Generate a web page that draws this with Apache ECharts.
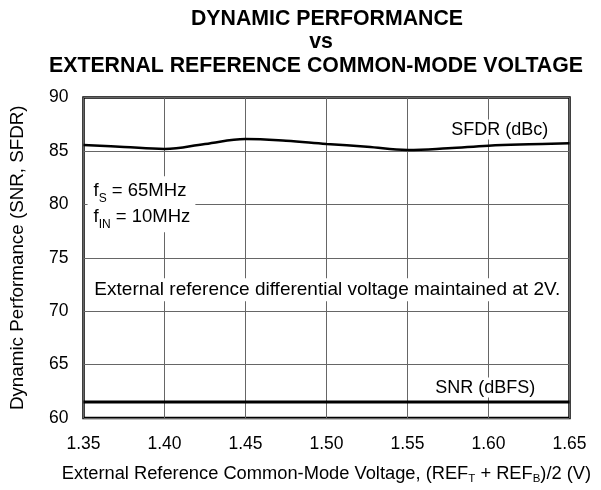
<!DOCTYPE html>
<html>
<head>
<meta charset="utf-8">
<script src="https://cdn.jsdelivr.net/npm/echarts@6/dist/echarts.min.js"></script>
<style>
  html, body { margin: 0; padding: 0; background: #fff; }
  #chart { width: 601px; height: 490px; }
</style>
</head>
<body>
<div id="chart"></div>
<script>
// values
const voltage = [1.35, 1.375, 1.40, 1.425, 1.45, 1.475, 1.50, 1.525, 1.55, 1.575, 1.60, 1.625, 1.65];
const sfdr = [85.56, 85.37, 85.19, 85.65, 86.11, 85.95, 85.65, 85.40, 85.09, 85.25, 85.49, 85.62, 85.71];
const snrVoltage = [1.35, 1.40, 1.45, 1.50, 1.55, 1.60, 1.65];
const snr = [61.5, 61.5, 61.5, 61.5, 61.5, 61.5, 61.5];
const titleLines = ["DYNAMIC PERFORMANCE", "vs", "EXTERNAL REFERENCE COMMON-MODE VOLTAGE"];

const font = "Liberation Sans, Arial, Helvetica, sans-serif";

const chartDom = document.getElementById("chart");
const myChart = echarts.init(chartDom);

const labelBase = {
    show: true,
    color: "#000",
    fontFamily: font,
    fontSize: 18,
    backgroundColor: "#fff",
};

// title lines are not quite centred on the same x in the original
const titleX = [327, 321, 316];

let option = {
    animation: false,
    graphic: titleLines.map((t, i) => ({
        type: "text",
        x: titleX[i],
        y: 7 + i * 23.5,
        style: {
            text: t,
            align: "center",
            fontFamily: font,
            fontWeight: "bold",
            fontSize: 21.3,
            lineHeight: 23.5,
            fill: "#000",
        },
    })),
    grid: {
        left: 83.5,
        right: 31.5,
        top: 97.5,
        bottom: 64,
        show: true,
        borderColor: "#000",
        borderWidth: 2.5,
        backgroundColor: "#fff",
    },
    xAxis: {
        type: "value",
        min: 1.35,
        max: 1.65,
        interval: 0.05,
        name: "External Reference Common-Mode Voltage, (REF{s|T} + REF{s|B})/2 (V)",
        nameLocation: "middle",
        nameGap: 45,
        nameTextStyle: {
            color: "#000",
            fontFamily: font,
            fontSize: 18.3,
            lineHeight: 22,
            rich: {
                s: { fontSize: 11.5, lineHeight: 12, verticalAlign: "bottom", fontFamily: font, color: "#000" },
            },
        },
        axisLine: { show: false },
        axisTick: { show: false },
        axisLabel: {
            color: "#000",
            fontFamily: font,
            fontSize: 17.5,
            margin: 17.5,
            formatter: (v) => v.toFixed(2),
        },
        splitLine: { show: true, lineStyle: { color: "#666", width: 1 } },
    },
    yAxis: {
        type: "value",
        min: 60,
        max: 90,
        interval: 5,
        name: "Dynamic Performance (SNR, SFDR)",
        nameLocation: "middle",
        nameGap: 56,
        nameTextStyle: { color: "#000", fontFamily: font, fontSize: 18.8 },
        axisLine: { show: false },
        axisTick: { show: false },
        axisLabel: { color: "#000", fontFamily: font, fontSize: 17.5, margin: 15 },
        splitLine: { show: true, lineStyle: { color: "#666", width: 1 } },
    },
    series: [
        {
            name: "SFDR",
            type: "line",
            smooth: 0.4,
            symbol: "none",
            lineStyle: { color: "#000", width: 2.5 },
            data: voltage.map((v, i) => [v, sfdr[i]]),
            markPoint: {
                symbol: "circle",
                symbolSize: 0,
                silent: true,
                data: [
                    {
                        coord: [1.607, 87.0],
                        label: { ...labelBase, position: "inside", formatter: "SFDR (dBc)", padding: [1, 3] },
                    },
                    {
                        coord: [1.598, 62.85],
                        label: { ...labelBase, position: "inside", formatter: "SNR (dBFS)", padding: [1, 3] },
                    },
                    {
                        coord: [1.3525, 80],
                        label: {
                            ...labelBase,
                            position: "right",
                            distance: 0,
                            padding: [2, 5, 2, 6],
                            formatter: "{t|f}{s|S}{t| = 65MHz}\n{t|f}{s|IN}{t| = 10MHz}",
                            rich: {
                                t: { fontSize: 18.5, lineHeight: 26, color: "#000", fontFamily: font },
                                s: { fontSize: 12, lineHeight: 14, verticalAlign: "bottom", color: "#000", fontFamily: font },
                            },
                        },
                    },
                    {
                        coord: [1.353, 72.0],
                        label: {
                            ...labelBase,
                            fontSize: 19,
                            position: "right",
                            distance: 0,
                            padding: [2, 3, 2, 6],
                            formatter: "External reference differential voltage maintained at 2V.",
                        },
                    },
                ],
            },
        },
        {
            name: "SNR",
            type: "line",
            symbol: "none",
            lineStyle: { color: "#000", width: 2.8 },
            data: snrVoltage.map((v, i) => [v, snr[i]]),
        },
    ],
};

option && myChart.setOption(option);
</script>
</body>
</html>
